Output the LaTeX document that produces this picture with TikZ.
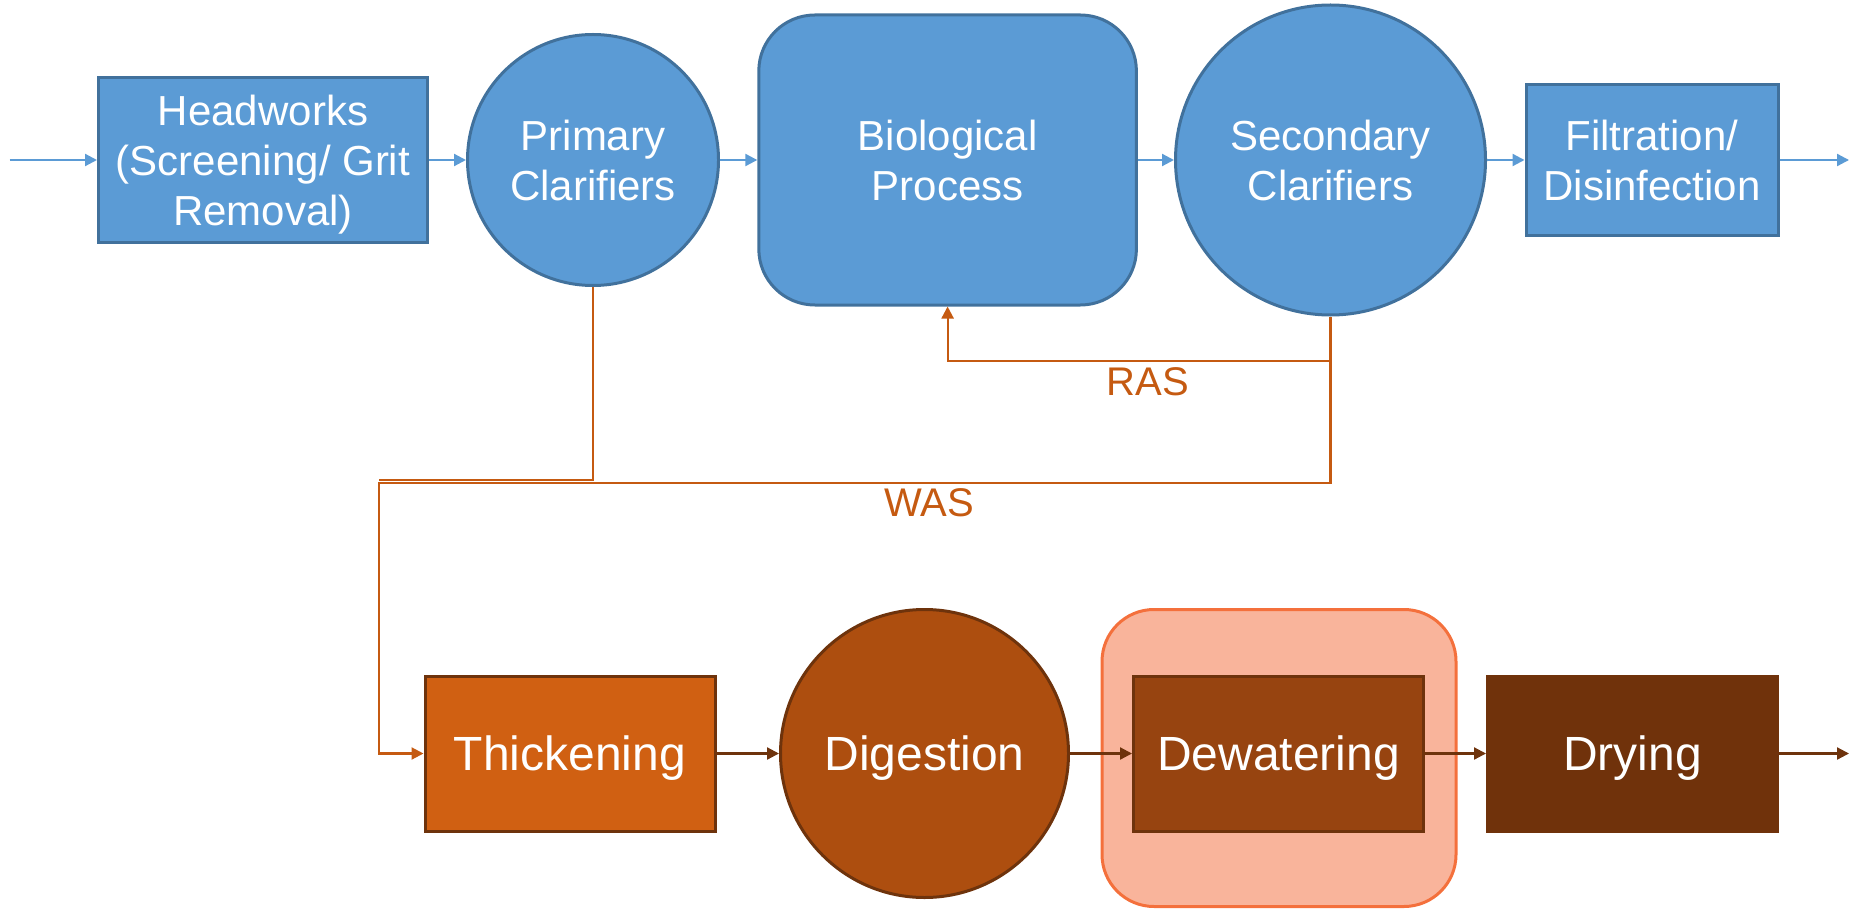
\documentclass[tikz,border=0pt]{standalone}
\usepackage{fontspec}
\setmainfont{Liberation Sans}
\usetikzlibrary{arrows.meta}
\definecolor{bfill}{HTML}{5B9BD5}
\definecolor{bline}{HTML}{41719C}
\definecolor{oline}{HTML}{C55A11}
\definecolor{thickc}{HTML}{D06012}
\definecolor{digc}{HTML}{AD4E0F}
\definecolor{dewc}{HTML}{974410}
\definecolor{dryc}{HTML}{70320B}
\definecolor{brdr}{HTML}{6E330C}
\definecolor{hlfill}{HTML}{F9B49B}
\definecolor{hlline}{HTML}{F4703C}
\begin{document}
\begin{tikzpicture}[x=0.5pt,y=-0.5pt,
  topnode/.style={draw=bline,fill=bfill,line width=1.5pt,text=white,
    font=\fontsize{21}{25}\selectfont,align=center,inner sep=0pt},
  botnode/.style={draw=brdr,line width=1.5pt,text=white,
    font=\fontsize{24}{28}\selectfont,align=center,inner sep=0pt,text depth=0pt,
    minimum width=145pt,minimum height=77.5pt},
  bflow/.style={draw=bfill,line width=1.1pt,-{Triangle[length=6pt,width=6pt]}},
  oflow/.style={draw=oline,line width=1.1pt},
  dflow/.style={draw=brdr,line width=1.1pt,-{Triangle[length=6pt,width=6pt]}},
  lbl/.style={text=oline,font=\fontsize{20}{24}\selectfont,inner sep=0pt}
]
\useasboundingbox (0,0) rectangle (1856,909);

% top row
\node[topnode,text depth=0pt,minimum width=164.5pt,minimum height=82.5pt] (head) at (263,160)
  {Headworks\\(Screening/ Grit\\Removal)};
\node[topnode,circle,minimum size=125.5pt] (prim) at (593,160) {Primary\\Clarifiers};
\node[topnode,rounded corners=28pt,minimum width=188.8pt,minimum height=145pt] (bio) at (947.6,160)
  {Biological\\Process};
\node[topnode,circle,minimum size=155pt] (sec) at (1330.5,160) {Secondary\\Clarifiers};
\node[topnode,minimum width=126pt,minimum height=75.5pt] (filt) at (1652,160)
  {Filtration/\\Disinfection};

\coordinate (in) at (9.5,160);
\coordinate (out) at (1849,160);

\draw[bflow] (in) -- (head.west);
\draw[bflow] (head.east) -- (prim.west);
\draw[bflow] (prim.east) -- (bio.west);
\draw[bflow] (bio.east) -- (sec.west);
\draw[bflow] (sec.east) -- (filt.west);
\draw[bflow] (filt.east) -- (out);

% bottom row
\node[draw=hlline,fill=hlfill,line width=1.5pt,rounded corners=26pt,
  minimum width=177pt,minimum height=148.5pt] (hl) at (1279,758) {};
\node[botnode,fill=thickc] (thk) at (570,753.5) {Thickening};
\node[botnode,fill=digc,circle,minimum size=144pt] (dig) at (924.5,753.5) {Digestion};
\node[botnode,fill=dewc] (dew) at (1278.5,753.5) {Dewatering};
\node[botnode,fill=dryc,draw=dryc] (dry) at (1632.5,753.5) {Drying};
\coordinate (bout) at (1849,753.5);

\draw[dflow] (thk.east) -- (dig.west);
\draw[dflow] (dig.east) -- (dew.west);
\draw[dflow] (dew.east) -- (dry.west);
\draw[dflow] (dry.east) -- (bout);

% RAS
\coordinate (rasR) at (1330.5,361);
\coordinate (rasL) at (947.6,361);
\draw[oflow,-{Triangle[length=6pt,width=6pt]}] (sec.south) -- (rasR) -- (rasL) -- (bio.south);
\node[lbl] (ras) at (1148,382) {RAS};

% WAS
\coordinate (wasP) at (593,480);
\coordinate (wasPL) at (379,480);
\coordinate (wasS) at (1330.5,483);
\coordinate (wasSL) at (379,483);
\coordinate (wasD) at (379,753.5);
\draw[oflow] (prim.south) -- (wasP) -- (wasPL);
\draw[oflow,-{Triangle[length=6pt,width=6pt]}] (rasR) -- (wasS) -- (wasSL) -- (wasD) -- (thk.west);
\node[lbl] (was) at (929,503) {WAS};
\end{tikzpicture}
\end{document}
